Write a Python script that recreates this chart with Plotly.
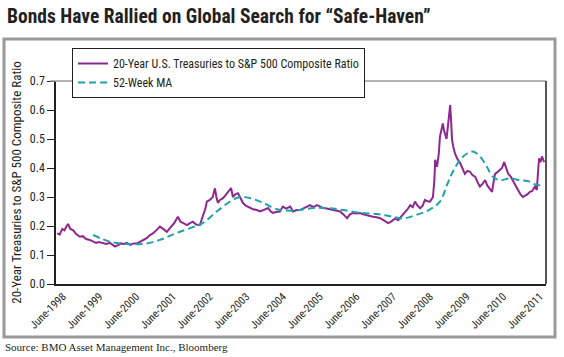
import plotly.graph_objects as go

# ---- data (decimal years) ----
ratio_t = [1998.26, 1998.33, 1998.40, 1998.46, 1998.52, 1998.56, 1998.62, 1998.70, 1998.78, 1998.88,
           1998.96, 1999.05, 1999.15, 1999.24, 1999.32, 1999.40, 1999.51, 1999.60, 1999.70, 1999.78,
           1999.84, 1999.92, 2000.00, 2000.08, 2000.16, 2000.25, 2000.35, 2000.44, 2000.52, 2000.60,
           2000.70, 2000.79, 2000.88, 2000.96, 2001.06, 2001.15, 2001.25, 2001.35, 2001.45, 2001.55,
           2001.62, 2001.70, 2001.80, 2001.88, 2001.96, 2002.05, 2002.15, 2002.22, 2002.30, 2002.34,
           2002.42, 2002.50, 2002.56, 2002.60, 2002.64, 2002.70, 2002.78, 2002.84, 2002.89, 2002.95,
           2003.00, 2003.05, 2003.12, 2003.19, 2003.25, 2003.32, 2003.40, 2003.52, 2003.60, 2003.70,
           2003.79, 2003.88, 2003.95, 2004.01, 2004.08, 2004.14, 2004.22, 2004.33, 2004.41, 2004.50,
           2004.61, 2004.69, 2004.78, 2004.88, 2004.96, 2005.05, 2005.15, 2005.25, 2005.34, 2005.42,
           2005.50, 2005.60, 2005.70, 2005.78, 2005.88, 2005.97, 2006.06, 2006.16, 2006.24, 2006.32,
           2006.42, 2006.51, 2006.60, 2006.70, 2006.80, 2006.87, 2006.96, 2007.06, 2007.15, 2007.22,
           2007.28, 2007.36, 2007.47, 2007.55, 2007.60, 2007.68, 2007.74, 2007.82, 2007.88, 2007.95,
           2008.01, 2008.08, 2008.15, 2008.22, 2008.28, 2008.35, 2008.42, 2008.50, 2008.54, 2008.56,
           2008.61, 2008.66, 2008.69, 2008.73, 2008.77, 2008.80, 2008.83, 2008.87, 2008.91, 2008.94,
           2008.97, 2009.00, 2009.02, 2009.06, 2009.10, 2009.17, 2009.24, 2009.30, 2009.37, 2009.44,
           2009.51, 2009.58, 2009.65, 2009.72, 2009.78, 2009.85, 2009.92, 2009.98, 2010.04, 2010.11,
           2010.15, 2010.19, 2010.25, 2010.33, 2010.38, 2010.44, 2010.50, 2010.55, 2010.62, 2010.68,
           2010.75, 2010.82, 2010.88, 2010.95, 2011.02, 2011.08, 2011.14, 2011.20, 2011.28, 2011.33,
           2011.36, 2011.39, 2011.43, 2011.47, 2011.50, 2011.53]
ratio_v = [0.175, 0.170, 0.190, 0.185, 0.200, 0.207, 0.190, 0.185, 0.172, 0.163,
           0.165, 0.155, 0.152, 0.146, 0.142, 0.145, 0.142, 0.138, 0.142, 0.135,
           0.129, 0.134, 0.140, 0.138, 0.142, 0.135, 0.140, 0.140, 0.146, 0.152,
           0.158, 0.169, 0.175, 0.185, 0.198, 0.190, 0.180, 0.195, 0.210, 0.232,
           0.215, 0.210, 0.203, 0.210, 0.215, 0.205, 0.203, 0.230, 0.260, 0.284,
           0.290, 0.300, 0.330, 0.300, 0.280, 0.290, 0.296, 0.305, 0.313, 0.320,
           0.331, 0.300, 0.310, 0.313, 0.300, 0.280, 0.270, 0.262, 0.258, 0.255,
           0.250, 0.255, 0.260, 0.262, 0.250, 0.245, 0.248, 0.250, 0.267, 0.260,
           0.267, 0.250, 0.255, 0.255, 0.260, 0.265, 0.272, 0.265, 0.272, 0.268,
           0.262, 0.260, 0.258, 0.255, 0.252, 0.250, 0.240, 0.227, 0.240, 0.245,
           0.243, 0.245, 0.240, 0.238, 0.236, 0.232, 0.230, 0.227, 0.220, 0.215,
           0.210, 0.215, 0.226, 0.220, 0.227, 0.240, 0.250, 0.260, 0.272, 0.265,
           0.284, 0.270, 0.261, 0.270, 0.290, 0.285, 0.284, 0.300, 0.360, 0.428,
           0.404, 0.450, 0.508, 0.530, 0.554, 0.530, 0.520, 0.500, 0.548, 0.580,
           0.617, 0.550, 0.497, 0.470, 0.450, 0.430, 0.417, 0.400, 0.380, 0.390,
           0.387, 0.375, 0.370, 0.350, 0.336, 0.345, 0.358, 0.340, 0.330, 0.318,
           0.350, 0.380, 0.385, 0.393, 0.400, 0.420, 0.395, 0.380, 0.370, 0.358,
           0.340, 0.324, 0.310, 0.300, 0.305, 0.310, 0.318, 0.320, 0.336, 0.324,
           0.380, 0.433, 0.420, 0.440, 0.430, 0.420]

ma_t = [1999.24, 1999.70, 2000.16, 2000.60, 2001.06, 2001.52, 2001.96, 2002.23, 2002.61, 2002.97,
        2003.24, 2003.52, 2003.87, 2004.25, 2004.69, 2005.24, 2005.62, 2006.06, 2006.51, 2006.98,
        2007.33, 2007.69, 2008.04, 2008.39, 2008.69, 2008.88, 2009.04, 2009.24, 2009.43, 2009.59,
        2009.78, 2009.97, 2010.13, 2010.33, 2010.60, 2010.87, 2011.14, 2011.33, 2011.50]
ma_v = [0.169, 0.146, 0.138, 0.138, 0.152, 0.176, 0.196, 0.210, 0.250, 0.284,
        0.300, 0.296, 0.280, 0.258, 0.253, 0.262, 0.262, 0.255, 0.246, 0.241,
        0.234, 0.226, 0.238, 0.255, 0.284, 0.341, 0.387, 0.428, 0.450, 0.457,
        0.440, 0.404, 0.370, 0.358, 0.364, 0.358, 0.353, 0.341, 0.341]

tick_years = list(range(1998, 2012))
tick_labels = [f"June-{y}" for y in tick_years]
tick_pos = [y + 0.417 for y in tick_years]

NARROW = "Liberation Sans Narrow, Arial Narrow, Roboto Condensed, Liberation Sans, sans-serif"
W, H = 564, 357
L, R, T, B = 56, 546, 81, 284

def px(x):
    return (x - L) / (R - L)

def py(y):
    return (B - y) / (B - T)

fig = go.Figure()
fig.add_trace(go.Scatter(x=ratio_t, y=ratio_v, mode="lines",
                         name="20-Year U.S. Treasuries to S&P 500 Composite Ratio",
                         line=dict(color="#8E2790", width=2)))
fig.add_trace(go.Scatter(x=ma_t, y=ma_v, mode="lines", name="52-Week MA",
                         line=dict(color="#1FA3AA", width=2, dash="7px,4px", shape="spline")))

fig.update_layout(
    width=W, height=H,
    margin=dict(l=L, r=W - R, t=T, b=H - B),
    paper_bgcolor="white", plot_bgcolor="white",
    font=dict(family=NARROW, size=11, color="#231f20"),
    showlegend=True,
    legend=dict(x=px(72), y=py(48), xanchor="left", yanchor="top",
                bgcolor="white", bordercolor="#231f20", borderwidth=1,
                font=dict(family=NARROW, size=12, color="#231f20"),
                tracegroupgap=0, itemwidth=30),
    xaxis=dict(range=[1998.23, 2011.58], tickmode="array", tickvals=tick_pos,
               ticktext=tick_labels, tickangle=-45, showgrid=False, zeroline=False,
               showline=True, linecolor="#231f20", linewidth=1.5, ticks="",
               tickfont=dict(family=NARROW, size=11, color="#231f20")),
    yaxis=dict(range=[0, 0.7], dtick=0.1, tickformat=".1f", showgrid=False,
               zeroline=False, showline=True, linecolor="#231f20", linewidth=1.5,
               ticks="outside", ticklen=7, tickcolor="#231f20",
               tickfont=dict(family=NARROW, size=12, color="#231f20"),
               title=dict(text="20-Year Treasuries to S&P 500 Composite Ratio",
                          font=dict(family=NARROW, size=13, color="#231f20"),
                          standoff=5)),
)

shapes = [
    # outer gray frame
    dict(type="rect", xref="paper", yref="paper", x0=px(4), x1=px(555), y0=py(337), y1=py(39),
         line=dict(color="#9a9a9a", width=3), layer="below"),
    # top plot border (gray)
    dict(type="line", xref="paper", yref="paper", x0=px(50), x1=1, y0=1, y1=1,
         line=dict(color="#9a9a9a", width=1.5)),
    # right plot border
    dict(type="line", xref="paper", yref="paper", x0=1, x1=1, y0=0, y1=1,
         line=dict(color="#231f20", width=1.5)),
]
fig.update_layout(shapes=shapes)

fig.add_annotation(text="<b>Bonds Have Rallied on Global Search for “Safe-Haven”</b>",
                   xref="paper", yref="paper", x=px(5), y=py(16), xanchor="left", yanchor="middle",
                   showarrow=False, font=dict(family=NARROW, size=19.5, color="#231f20"))
fig.add_annotation(text="Source: BMO Asset Management Inc., Bloomberg",
                   xref="paper", yref="paper", x=px(3), y=py(347), xanchor="left", yanchor="middle",
                   showarrow=False,
                   font=dict(family="Liberation Serif, Times New Roman, serif", size=11, color="#231f20"))

fig.write_html("out.html",
               config={"displayModeBar": False},
               post_script="document.body.style.margin='0px';document.body.style.overflow='hidden';")
